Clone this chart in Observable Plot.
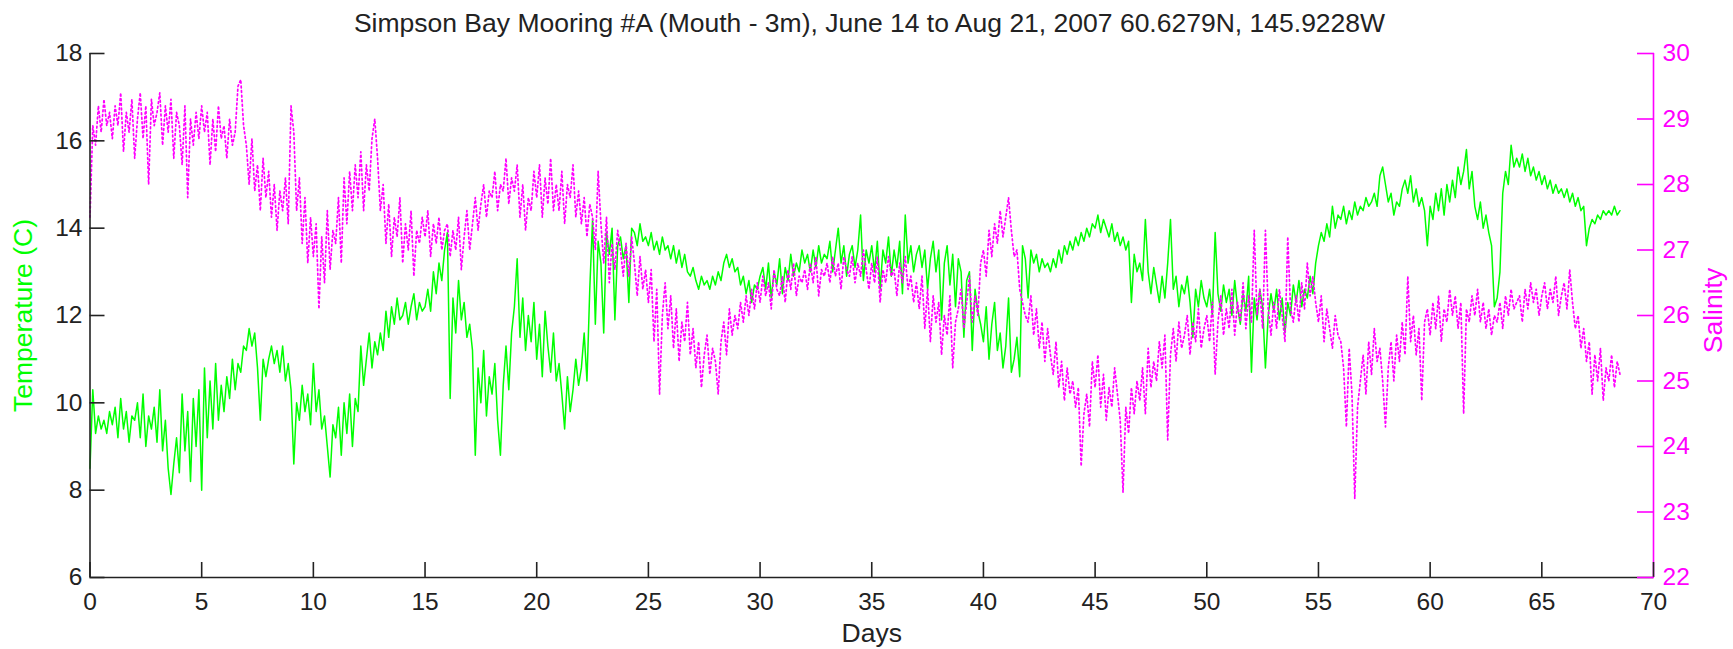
<!DOCTYPE html>
<html>
<head>
<meta charset="utf-8">
<script src="https://cdn.jsdelivr.net/npm/d3@7"></script>
<script src="https://cdn.jsdelivr.net/npm/@observablehq/plot@0.6"></script>
<style>
  html, body { margin: 0; padding: 0; background: #fff; }
  #wrap { width: 1733px; height: 649px; position: relative; font-family: "Liberation Sans", Arial, sans-serif; }
  #title { height: 40px; line-height: 46px; font-size: 26.5px; color: #222; text-align: center; padding-left: 6px; box-sizing: border-box; white-space: nowrap; }
</style>
</head>
<body>
<div id="wrap">
  <div id="title">Simpson Bay Mooring #A (Mouth - 3m), June 14 to Aug 21, 2007 60.6279N, 145.9228W</div>
  <div id="chart"></div>
</div>
<script>
// Sampling interval of the series (days)
const STEP = 0.125;

// Temperature (C), one row per day, 8 samples per day
const temperature = [
  8.5, 10.3, 9.3, 9.7, 9.4, 9.6, 9.3, 9.8,
  9.5, 9.9, 9.2, 10.1, 9.4, 9.8, 9.1, 9.7,
  9.6, 10.0, 9.2, 10.2, 9.0, 9.7, 9.4, 9.9,
  9.1, 10.3, 8.9, 9.6, 8.5, 7.9, 8.6, 9.2,
  8.4, 10.2, 8.9, 9.8, 8.2, 10.1, 9.0, 10.3,
  8.0, 10.8, 9.2, 10.5, 9.4, 10.9, 9.6, 10.4,
  9.8, 10.6, 10.1, 11.0, 10.3, 10.9, 10.7, 11.3,
  11.2, 11.7, 11.3, 11.6, 10.8, 9.6, 11.0, 10.6,
  11.0, 11.3, 10.9, 11.2, 10.7, 11.3, 10.5, 10.9,
  10.3, 8.6, 10.0, 9.6, 10.4, 9.8, 10.2, 9.5,
  10.9, 9.8, 10.3, 9.4, 9.7, 9.0, 8.3, 9.5,
  9.2, 9.9, 8.8, 10.0, 9.3, 10.2, 9.0, 10.1,
  9.8, 11.3, 10.4, 11.0, 11.6, 10.8, 11.4, 11.1,
  11.6, 11.2, 12.1, 11.5, 12.2, 11.8, 12.4, 11.9,
  12.0, 12.3, 11.8, 12.2, 12.5, 11.9, 12.3, 12.1,
  12.2, 12.6, 12.1, 13.0, 12.5, 13.2, 12.8, 13.5,
  13.9, 10.1, 12.4, 11.6, 12.8, 11.9, 12.3, 11.5,
  11.8, 11.2, 8.8, 10.8, 10.0, 11.2, 9.7, 10.6,
  10.2, 10.9, 9.6, 8.8, 10.4, 11.3, 10.3, 11.6,
  12.2, 13.3, 11.5, 12.4, 11.2, 12.0, 11.4, 12.3,
  11.0, 11.8, 10.6, 12.1, 11.3, 10.7, 11.6, 10.5,
  10.9, 10.2, 9.4, 10.6, 9.8, 10.3, 11.0, 10.4,
  10.8, 11.6, 10.5, 12.6, 14.2, 11.8, 13.7, 13.2,
  11.6, 13.9, 13.4, 14.0, 11.9, 13.6, 13.8, 13.3,
  13.6, 12.3, 14.0, 13.9, 13.6, 14.1, 13.7, 13.8,
  13.6, 13.9, 13.5, 13.7, 13.4, 13.8, 13.5, 13.6,
  13.3, 13.6, 13.2, 13.5, 13.1, 13.4, 13.0, 12.9,
  13.1, 12.8, 12.6, 12.9, 12.7, 12.8, 12.6, 12.9,
  12.7, 13.0, 12.8, 13.2, 13.4, 13.1, 13.3, 13.0,
  13.1, 12.7, 12.9, 12.5, 12.8, 12.3, 12.7, 12.6,
  12.9, 13.1, 12.6, 13.2, 12.4, 13.0, 12.7, 13.3,
  12.5, 13.1, 12.8, 13.4, 12.9, 13.2, 13.0, 13.5,
  13.2, 13.4, 13.0, 13.5, 13.1, 13.6, 13.2, 13.4,
  13.3, 13.7, 13.0, 13.5, 14.0, 13.2, 13.6, 12.9,
  13.4, 13.6, 13.1, 13.5, 14.3, 12.8, 13.5, 13.2,
  13.6, 13.0, 13.7, 12.6, 13.5, 13.2, 13.8, 12.9,
  13.5, 13.1, 13.7, 12.5, 14.3, 13.2, 13.6, 13.0,
  13.4, 13.6, 13.1, 13.5, 12.6, 13.3, 13.7, 13.0,
  13.5, 11.9, 13.2, 13.6, 12.7, 13.4, 12.2, 13.3,
  13.0, 11.5, 12.8, 13.0, 11.2, 12.6, 12.1, 11.8,
  11.4, 12.2, 11.0, 11.8, 12.3, 11.2, 11.6, 10.8,
  11.3, 12.4, 10.7, 11.0, 11.5, 10.6, 13.6, 13.3,
  12.4, 13.5, 13.2, 13.4, 13.0, 13.3, 13.1, 13.2,
  13.0, 13.3, 13.1, 13.5, 13.2, 13.6, 13.4, 13.7,
  13.5, 13.8, 13.6, 13.9, 13.7, 14.0, 13.8, 14.1,
  14.0, 14.3, 13.9, 14.2, 14.0, 13.8, 14.1, 13.7,
  13.9, 13.6, 13.8, 13.5, 13.7, 12.3, 13.4, 13.0,
  13.2, 12.8, 14.2, 13.0, 12.5, 13.1, 12.7, 12.3,
  12.9, 12.4, 13.2, 14.2, 12.6, 12.9, 12.2, 12.7,
  12.5, 12.9, 12.3, 11.5, 12.6, 12.2, 12.8, 12.4,
  12.2, 12.6, 12.0, 13.9, 12.5, 12.1, 12.7, 12.3,
  12.6, 12.0, 12.8, 12.2, 11.8, 12.5, 12.1, 12.9,
  10.7, 12.4, 11.9, 12.6, 12.2, 10.8, 12.0, 12.5,
  12.1, 12.6, 11.9, 12.4, 11.6, 12.3, 12.0, 12.7,
  12.3, 12.8, 12.2, 12.6, 12.4, 12.9, 12.5, 13.2,
  13.6, 13.9, 13.7, 14.1, 13.8, 14.5, 14.0, 14.3,
  14.2, 14.5, 14.1, 14.4, 14.2, 14.6, 14.3, 14.5,
  14.4, 14.7, 14.5, 14.6, 14.8, 14.5, 15.2, 15.4,
  15.0, 14.6, 14.8, 14.3, 14.6, 14.5, 14.9, 15.1,
  14.8, 15.2, 14.6, 14.9, 14.5, 14.7, 14.4, 13.6,
  14.5, 14.2, 14.8, 14.4, 14.9, 14.3, 15.0, 14.6,
  15.1, 14.7, 15.4, 15.0, 15.3, 15.8, 14.9, 15.3,
  14.5, 14.2, 14.6, 14.0, 14.3, 13.9, 13.6, 12.2,
  12.4, 13.0, 14.8, 15.3, 15.0, 15.9, 15.4, 15.6,
  15.4, 15.7, 15.3, 15.6, 15.2, 15.4, 15.1, 15.3,
  15.0, 15.2, 14.9, 15.1, 14.8, 15.0, 14.8, 14.9,
  14.7, 14.9, 14.6, 14.8, 14.5, 14.7, 14.4, 14.5,
  13.6, 14.0, 14.2, 14.1, 14.3, 14.2, 14.4, 14.3,
  14.4, 14.3, 14.5, 14.3, 14.4
];

// Salinity, one row per day, 8 samples per day
const salinity = [
  27.5, 28.9, 28.6, 29.2, 28.8, 29.3, 28.9, 29.1,
  28.7, 29.2, 28.9, 29.4, 28.5, 29.1, 28.8, 29.3,
  28.4, 29.0, 29.4, 28.7, 29.2, 28.0, 29.3, 28.9,
  29.1, 29.4, 28.6, 29.2, 28.8, 29.3, 28.4, 29.1,
  28.9, 28.3, 29.2, 27.8, 29.0, 28.6, 29.1, 28.7,
  29.2, 28.8, 29.1, 28.3, 29.0, 28.5, 29.2, 28.7,
  28.9, 28.4, 29.0, 28.6, 28.8, 29.5, 29.6, 28.9,
  28.6, 28.0, 28.7, 27.9, 28.3, 27.6, 28.4, 27.8,
  28.2, 27.5, 28.0, 27.3, 27.9, 27.6, 28.1, 27.4,
  29.2, 28.8, 27.6, 28.1, 27.1, 27.8, 26.8, 27.5,
  26.9, 27.4, 26.1, 27.2, 26.5, 27.6, 26.7, 27.3,
  27.1, 27.8, 26.8, 28.1, 27.4, 28.2, 27.6, 28.3,
  27.8, 28.5, 27.6, 28.3, 27.9, 28.7, 29.0, 28.4,
  27.6, 28.0, 27.1, 27.7, 26.9, 27.5, 27.2, 27.8,
  26.8, 27.4, 27.0, 27.6, 26.6, 27.3, 27.1, 27.5,
  27.2, 27.6, 26.9, 27.4, 27.1, 27.5, 27.0, 27.3,
  27.4, 26.9, 27.3, 27.0, 27.5, 26.7, 27.2, 27.6,
  27.0, 27.4, 27.8, 27.3, 27.7, 28.0, 27.5, 27.9,
  27.8, 28.2, 27.6, 28.0, 27.9, 28.4, 27.7, 28.1,
  27.9, 28.3, 27.5, 28.0, 27.3, 27.8, 27.6, 28.2,
  27.8, 28.3, 27.5, 28.1, 27.7, 28.4, 27.6, 28.0,
  27.6, 28.2, 27.4, 28.0, 27.8, 28.3, 27.5, 27.9,
  27.4, 27.8, 27.2, 27.7, 27.5, 27.0, 28.2, 27.4,
  26.8, 27.5, 26.5, 27.1, 26.7, 27.3, 27.0, 26.6,
  27.1, 26.6, 27.2, 26.8, 26.3, 26.9, 26.4, 26.7,
  26.2, 26.7, 25.6, 26.4, 24.8, 26.0, 26.5, 25.8,
  26.3, 25.5, 26.1, 25.3, 25.9, 25.6, 26.2, 25.4,
  25.8, 25.2, 25.6, 24.9, 25.4, 25.7, 25.1, 25.5,
  25.3, 24.8, 25.6, 25.9, 25.4, 26.1, 25.7, 26.0,
  25.8, 26.2, 25.9, 26.3, 26.0, 26.4, 26.1, 26.5,
  26.2, 26.6, 26.3, 26.5, 26.1, 26.7, 26.4, 26.3,
  26.6, 26.2, 26.7, 26.4, 26.8, 26.3, 26.6, 26.5,
  26.7, 26.4, 26.8, 26.5, 26.9, 26.3, 26.7, 26.6,
  26.8, 26.5, 26.9, 26.6, 26.8, 26.4, 26.9, 26.7,
  26.6, 26.9, 26.5, 26.8, 26.6, 27.0, 26.7, 26.4,
  26.8, 26.5, 26.9, 26.2, 26.7, 26.5, 26.9, 26.6,
  26.7, 26.3, 26.8, 26.5, 26.9, 26.4, 26.6, 26.2,
  26.5, 26.1, 26.6, 25.8, 26.4, 25.6, 26.3, 25.9,
  26.2, 25.4, 26.0, 25.7, 26.3, 25.2, 25.9, 26.1,
  26.4, 25.8, 26.2, 26.6, 25.9, 26.3, 26.0, 26.8,
  27.0, 26.6, 27.3, 26.9, 27.4, 27.1, 27.6, 27.2,
  27.5, 27.8, 27.3, 26.9, 27.0, 26.4, 26.2, 26.0,
  25.9, 26.3, 25.7, 26.1, 25.5, 25.9, 25.3, 25.8,
  25.4, 25.1, 25.6, 24.9, 25.3, 24.7, 25.2, 24.8,
  25.0, 24.6, 24.9, 23.7, 24.5, 24.8, 24.3, 25.3,
  24.9, 25.4, 24.6, 25.1, 24.4, 24.9, 24.6, 25.2,
  24.8, 24.4, 23.3, 24.6, 24.2, 24.9, 24.5, 25.0,
  24.7, 25.2, 24.5, 25.5, 24.9, 25.3, 25.0, 25.6,
  25.2, 25.7, 24.1, 25.4, 25.8, 25.3, 25.9, 25.5,
  25.7, 26.0, 25.4, 25.9, 25.6, 26.1, 25.5, 25.8,
  26.0, 25.6, 26.2, 25.1, 25.9, 26.3, 25.7, 26.1,
  25.8, 26.4, 25.7, 26.2, 25.9, 26.5, 25.8, 26.3,
  25.9, 27.3, 26.0, 26.4, 25.8, 27.3, 26.1, 25.7,
  26.2, 25.8, 26.4, 26.0, 25.6, 27.2, 26.1, 25.9,
  26.3, 25.9, 26.5, 26.1, 26.8, 26.3, 26.6, 26.2,
  25.9, 26.3, 25.6, 26.1, 25.8, 25.5, 26.0, 25.7,
  25.6, 25.2, 24.3, 25.5, 24.8, 23.2, 24.6, 25.0,
  25.4, 24.8, 25.6, 25.1, 25.8, 25.3, 25.5, 25.0,
  24.3, 25.2, 25.6, 25.0, 25.7, 25.3, 25.9, 25.4,
  26.6, 25.6, 26.0, 25.4, 25.8, 24.7, 25.9, 26.1,
  25.7, 26.2, 25.8, 26.3, 25.6, 26.1, 25.9, 26.4,
  26.0, 26.3, 25.8, 26.2, 24.5, 26.1, 25.9, 26.3,
  26.0, 26.4, 25.9, 26.2, 25.8, 26.1, 25.7, 26.0,
  25.9, 26.2, 25.8, 26.3, 26.0, 26.4, 26.1, 26.2,
  26.3, 25.9, 26.4, 26.1, 26.5, 26.2, 26.4, 26.0,
  26.3, 26.5, 26.1, 26.4, 26.2, 26.6, 26.0, 26.3,
  26.5, 26.1, 26.7, 26.2, 25.8, 26.0, 25.5, 25.8,
  25.3, 25.6, 24.8, 25.4, 25.0, 25.5, 24.7, 25.2,
  25.0, 25.4, 24.9, 25.3, 25.1
];

// Axis ticks
const dayTicks = [0, 5, 10, 15, 20, 25, 30, 35, 40, 45, 50, 55, 60, 65, 70];
const tempTicks = [6, 8, 10, 12, 14, 16, 18];
const salTicks = [22, 23, 24, 25, 26, 27, 28, 29, 30];

// Axis domains
const dayDomain = [0, 70];
const tempDomain = [6, 18];
const salDomain = [22, 30];

// Labels
const xLabel = "Days";
const yLabelLeft = "Temperature (C)";
const yLabelRight = "Salinity";

const GREEN = "#00ff00";
const MAGENTA = "#ff00ff";

// Map salinity onto the temperature axis (plotyy style twin axis)
const s2t = d3.scaleLinear().domain(salDomain).range(tempDomain);

const tempData = temperature.map((v, i) => ({day: i * STEP, v}));
const salData = salinity.map((v, i) => ({day: i * STEP, v: s2t(v)}));

const FS = 24.5;   // tick labels
const LFS = 26.5;  // axis labels
const chart = Plot.plot({
  width: 1733,
  height: 609,
  marginTop: 13,
  marginBottom: 72,
  marginLeft: 89.5,
  marginRight: 80,
  style: {fontFamily: "'Liberation Sans', Arial, sans-serif", fontSize: FS + "px", color: "#222", background: "#fff", overflow: "visible"},
  x: {domain: dayDomain},
  y: {domain: tempDomain},
  marks: [
    Plot.line(tempData, {x: "day", y: "v", stroke: GREEN, strokeWidth: 1.5}),
    Plot.line(salData, {x: "day", y: "v", stroke: MAGENTA, strokeWidth: 1.7, strokeDasharray: "1.8,2.8"}),
    Plot.ruleX([dayDomain[0]], {stroke: "#222", strokeWidth: 1.6}),
    Plot.ruleY([tempDomain[0]], {stroke: "#222", strokeWidth: 1.6}),
    Plot.ruleX([dayDomain[1]], {stroke: MAGENTA, strokeWidth: 1.6}),
    Plot.axisX({ticks: dayTicks, tickSize: -15, tickFormat: () => "", label: null, stroke: "#222", strokeWidth: 1.6}),
    Plot.axisX({ticks: dayTicks, tickSize: 0, tickPadding: 15, label: null, fill: "#222", fontSize: FS}),
    Plot.axisY({ticks: tempTicks, tickSize: -15, tickFormat: () => "", label: null, stroke: "#222", strokeWidth: 1.6}),
    Plot.axisY({ticks: tempTicks, tickSize: 0, tickPadding: 7.5, label: null, fill: "#222", fontSize: FS}),
    Plot.axisY({anchor: "right", ticks: salTicks.map(s2t), tickSize: -17, tickFormat: () => "", label: null, stroke: MAGENTA, strokeWidth: 1.6}),
    Plot.axisY({anchor: "right", ticks: salTicks.map(s2t), tickSize: 0, tickPadding: 9, label: null, fill: MAGENTA, fontSize: FS,
      tickFormat: t => String(Math.round(s2t.invert(t)))}),
    Plot.text([xLabel], {text: d => d, frameAnchor: "bottom", textAnchor: "middle", dy: 64, fill: "#222", fontSize: LFS}),
    Plot.text([yLabelLeft], {text: d => d, frameAnchor: "left", textAnchor: "middle", dx: -66, rotate: -90, fill: GREEN, fontSize: LFS}),
    Plot.text([yLabelRight], {text: d => d, frameAnchor: "right", textAnchor: "middle", dx: 60, dy: -5, rotate: -90, fill: MAGENTA, fontSize: LFS})
  ]
});
document.getElementById("chart").appendChild(chart);
</script>
</body>
</html>
